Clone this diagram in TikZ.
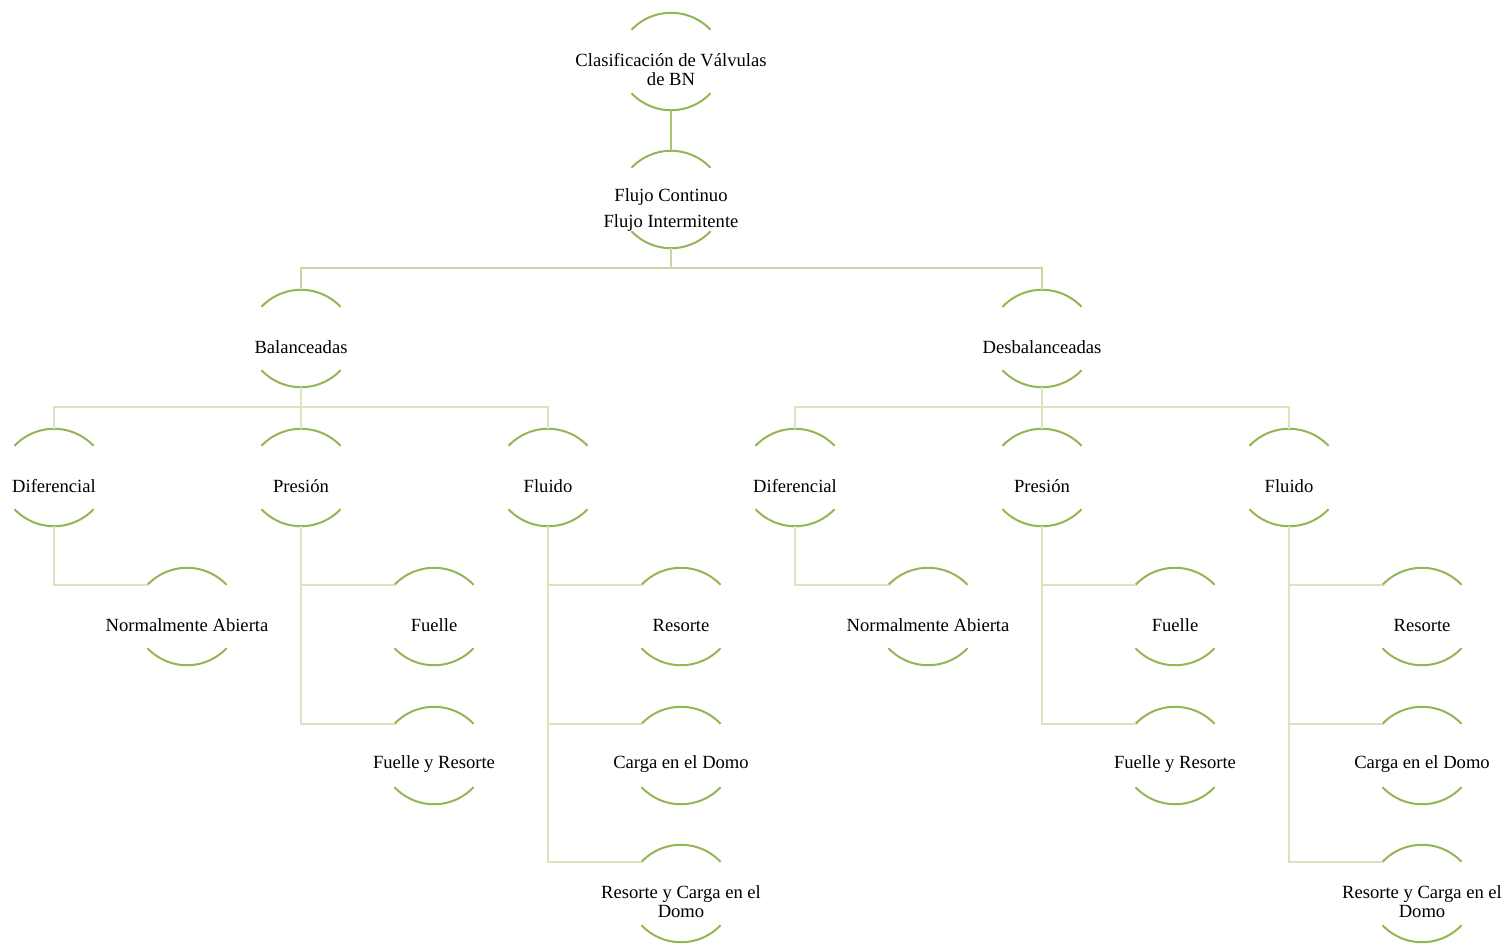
\documentclass[tikz,border=0pt]{standalone}
\usepackage{fontspec}
\setmainfont{Liberation Serif}
\usetikzlibrary{calc}
\definecolor{arcgreen}{HTML}{94B553}
\definecolor{connA}{HTML}{A9C470}
\definecolor{connB}{HTML}{C6D8A2}
\definecolor{connC}{HTML}{D7E4BD}
\tikzset{
  lbl/.style={align=center, inner sep=0pt, font=\fontsize{9.3}{9.5}\selectfont},
  arcline/.style={draw=arcgreen, line width=1pt},
  connroot/.style={draw=connA, line width=1pt},
  connmid/.style={draw=connB, line width=1pt},
  connlow/.style={draw=connC, line width=1pt},
}
\begin{document}
\begin{tikzpicture}[x=0.5pt,y=-0.5pt]
\useasboundingbox (0,0) rectangle (1507,944);
% nodes
\node[lbl] (root)  at (671,70)  {Clasificación de Válvulas\\de BN};
\node[lbl] (flujo) at (671,210) {Flujo Continuo\\[3.5pt]Flujo Intermitente};
\node[lbl] (bal)   at (301,347) {Balanceadas};
\node[lbl] (des)   at (1042,347) {Desbalanceadas};
\node[lbl] (bdif)  at (54,486)  {Diferencial};
\node[lbl] (bpre)  at (301,486) {Presión};
\node[lbl] (bflu)  at (548,486) {Fluido};
\node[lbl] (ddif)  at (795,486) {Diferencial};
\node[lbl] (dpre)  at (1042,486) {Presión};
\node[lbl] (dflu)  at (1289,486) {Fluido};
\node[lbl] (bna)   at (187,625) {Normalmente Abierta};
\node[lbl] (bfu)   at (434,625) {Fuelle};
\node[lbl] (bres)  at (681,625) {Resorte};
\node[lbl] (bfr)   at (434,764) {Fuelle y Resorte};
\node[lbl] (bcd)   at (681,764) {Carga en el Domo};
\node[lbl] (brcd)  at (681,902) {Resorte y Carga en el\\Domo};
\node[lbl] (dna)   at (928,625) {Normalmente Abierta};
\node[lbl] (dfu)   at (1175,625) {Fuelle};
\node[lbl] (dres)  at (1422,625) {Resorte};
\node[lbl] (dfr)   at (1175,764) {Fuelle y Resorte};
\node[lbl] (dcd)   at (1422,764) {Carga en el Domo};
\node[lbl] (drcd)  at (1422,902) {Resorte y Carga en el\\Domo};
% arcs and anchor coordinates
\foreach \n/\off in {root/4.25,flujo/5.25,bal/4.25,des/4.25,bdif/4.25,bpre/4.25,bflu/4.25,ddif/4.25,dpre/4.25,dflu/4.25,bna/4.25,bfu/4.25,bres/4.25,bfr/4.25,bcd/4.25,brcd/4.25,dna/4.25,dfu/4.25,dres/4.25,dfr/4.25,dcd/4.25,drcd/4.25}{
  \coordinate (\n-c) at ($(\n.center)+(0,\off pt)$);
  \coordinate (\n-t) at ($(\n-c)+(0,24.37pt)$);
  \coordinate (\n-b) at ($(\n-c)+(0,-24.37pt)$);
  \coordinate (\n-l) at ($(\n-c)+(-19.75pt,15.85pt)$);
  \draw[arcline] (\n-l) arc[start angle=136.6,end angle=43.4,radius=27.2pt];
  \draw[arcline] ($(\n-c)+(-19.75pt,-15.85pt)$) arc[start angle=223.4,end angle=316.6,radius=27.2pt];
}
% connectors
\draw[connroot] (root-b) -- (flujo-t);
\draw[connmid] (flujo-b) -- ++(0,-10pt) -| (bal-t);
\draw[connmid] (flujo-b) -- ++(0,-10pt) -| (des-t);
\foreach \p/\c in {bal/bdif,bal/bpre,bal/bflu,des/ddif,des/dpre,des/dflu}{
  \draw[connlow] (\p-b) -- ++(0,-10pt) -| (\c-t);
}
\foreach \p/\c in {bdif/bna,bpre/bfu,bpre/bfr,bflu/bres,bflu/bcd,bflu/brcd,ddif/dna,dpre/dfu,dpre/dfr,dflu/dres,dflu/dcd,dflu/drcd}{
  \draw[connlow] (\p-b) |- (\c-l);
}
\end{tikzpicture}
\end{document}
